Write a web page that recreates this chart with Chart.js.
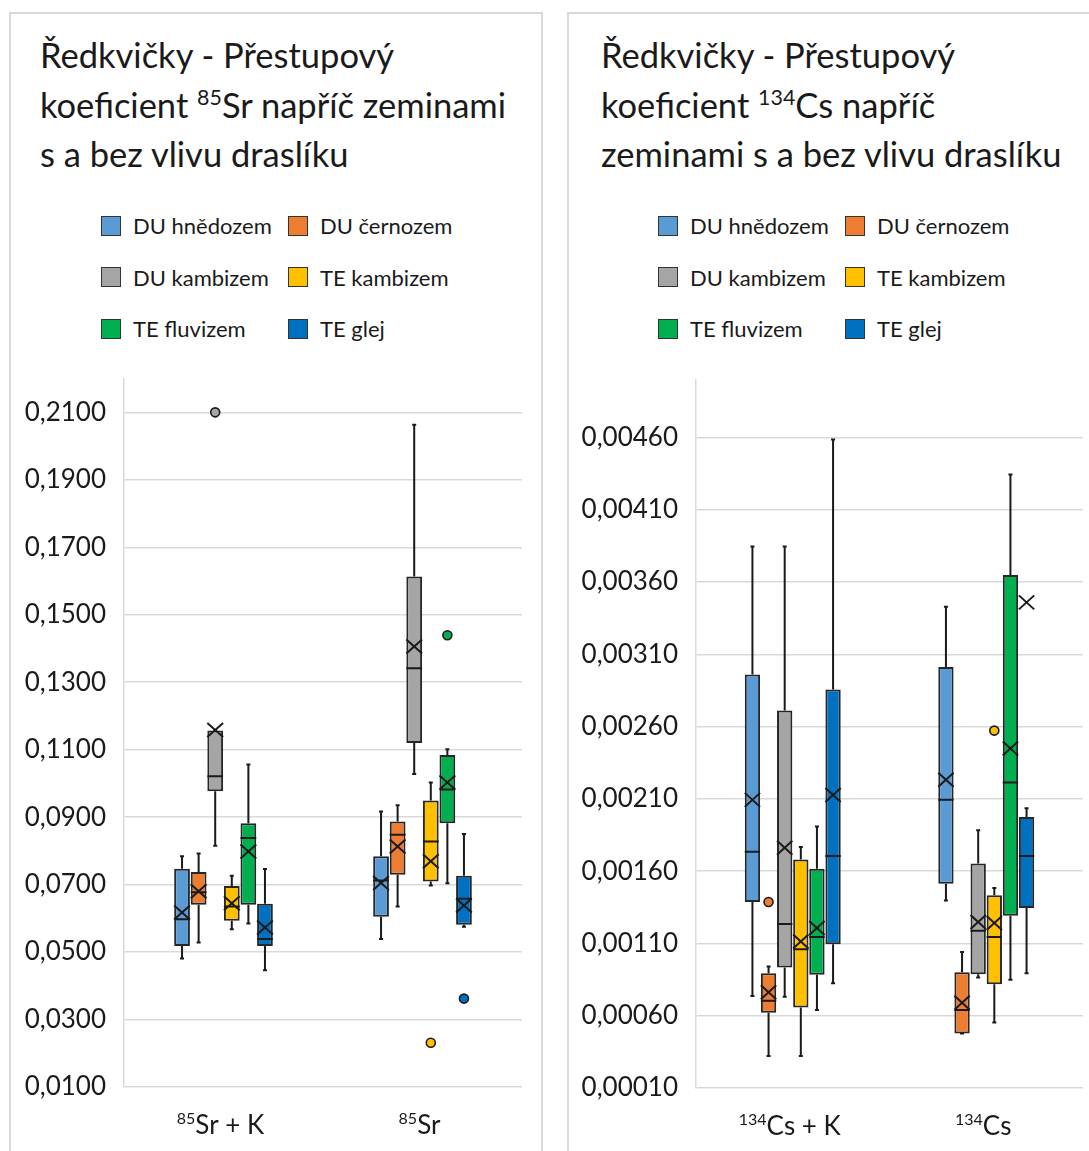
<!DOCTYPE html>
<html>
<head>
<meta charset="utf-8">
<script src="https://cdn.jsdelivr.net/npm/chart.js@4.4.1/dist/chart.umd.min.js"></script>
<style>
  body { margin: 0; background: #fff; font-family: Lato, sans-serif; width: 1089px; height: 1151px; overflow: hidden; position: relative; color: #1a1a1a; }
  .panel { position: absolute; top: 12px; height: 1200px; border: 2px solid #d9d9d9; box-sizing: border-box; }
  .title { position: absolute; top: 30px; font-size: 34.5px; line-height: 49.5px; white-space: nowrap; }
  .title sup { font-size: 0.62em; line-height: 0; vertical-align: 0; position: relative; top: -0.6em; }
  .legend { position: absolute; top: 200px; display: grid; grid-template-columns: 187px 187px; }
  .item { display: flex; align-items: center; height: 51.5px; font-size: 22px; white-space: nowrap; }
  .sw { width: 18px; height: 18px; border: 1.5px solid #333; margin-right: 12px; flex: none; }
  canvas { position: absolute; }
</style>
</head>
<body>
<div class="panel" style="left:9px;width:534px"></div>
<div class="panel" style="left:567px;width:560px"></div>

<div class="title" style="left:40px">Ředkvičky - Přestupový<br>koeficient <sup>85</sup>Sr napříč zeminami<br>s a bez vlivu draslíku</div>
<div class="title" style="left:601px">Ředkvičky - Přestupový<br>koeficient <sup>134</sup>Cs napříč<br>zeminami s a bez vlivu draslíku</div>

<div class="legend" id="leg1" style="left:101px"></div>
<div class="legend" id="leg2" style="left:658px"></div>

<canvas id="srChart" width="528" height="805" style="left:12px;top:345px"></canvas>
<canvas id="csChart" width="519" height="804" style="left:570px;top:346px"></canvas>

<script>
const seriesNames = ['DU hnědozem', 'DU černozem', 'DU kambizem', 'TE kambizem', 'TE fluvizem', 'TE glej'];
const seriesColors = ['#5B9BD5', '#ED7D31', '#A5A5A5', '#FFC000', '#00B050', '#0070C0'];

// 85Sr chart: one row per series, [with K, without K]
const srCategorySup = ['85', '85'];
const srCategoryText = ['Sr + K', 'Sr'];
const srTicks = [0.01, 0.03, 0.05, 0.07, 0.09, 0.11, 0.13, 0.15, 0.17, 0.19, 0.21];
const srLow = [[0.0481, 0.0539], [0.0528, 0.0635], [0.0815, 0.1028], [0.0568, 0.0697], [0.0585, 0.0704], [0.0446, 0.0575]];
const srQ1 = [[0.0518, 0.0605], [0.0640, 0.0729], [0.0977, 0.1120], [0.0593, 0.0709], [0.0640, 0.0882], [0.0518, 0.0581]];
const srMedian = [[0.0597, 0.0712], [0.0677, 0.0848], [0.1021, 0.1341], [0.0635, 0.0828], [0.0838, 0.0982], [0.0539, 0.0658]];
const srQ3 = [[0.0747, 0.0784], [0.0737, 0.0887], [0.1157, 0.1613], [0.0696, 0.0949], [0.0882, 0.1084], [0.0643, 0.0726]];
const srHigh = [[0.0784, 0.0917], [0.0792, 0.0935], [0.1157, 0.2063], [0.0726, 0.1003], [0.1056, 0.1101], [0.0746, 0.0850]];
const srMean = [[0.0617, 0.0705], [0.0680, 0.0813], [0.1158, 0.1406], [0.0645, 0.0769], [0.0798, 0.1003], [0.0573, 0.0638]];
const srOutlierSeries = [2, 3, 4, 5];
const srOutlierCat = [0, 1, 1, 1];
const srOutlierValues = [0.2100, 0.0231, 0.1439, 0.0362];

// 134Cs chart
const csCategorySup = ['134', '134'];
const csCategoryText = ['Cs + K', 'Cs'];
const csTicks = [0.0001, 0.0006, 0.0011, 0.0016, 0.0021, 0.0026, 0.0031, 0.0036, 0.0041, 0.0046];
const csLow = [[0.000737, 0.001397], [0.000322, 0.000477], [0.000732, 0.000864], [0.000322, 0.000553], [0.000640, 0.000848], [0.000824, 0.000894]];
const csQ1 = [[0.001387, 0.001512], [0.000621, 0.000477], [0.000933, 0.000887], [0.000656, 0.000817], [0.000883, 0.001292], [0.001095, 0.001345]];
const csMedian = [[0.001734, 0.002093], [0.000704, 0.000640], [0.001234, 0.001188], [0.001060, 0.001144], [0.001144, 0.002213], [0.001704, 0.001704]];
const csQ3 = [[0.002961, 0.003012], [0.000894, 0.000901], [0.002711, 0.001653], [0.001681, 0.001433], [0.001616, 0.003649], [0.002857, 0.001975]];
const csHigh = [[0.003845, 0.003428], [0.000940, 0.001040], [0.003845, 0.001883], [0.001767, 0.001484], [0.001908, 0.004343], [0.004586, 0.002035]];
const csMean = [[0.002093, 0.002232], [0.000762, 0.000690], [0.001762, 0.001248], [0.001114, 0.001241], [0.001206, 0.002449], [0.002126, 0.003459]];
const csOutlierSeries = [1, 3];
const csOutlierCat = [0, 1];
const csOutlierValues = [0.001387, 0.002572];

// html legends
['leg1', 'leg2'].forEach(id => {
  document.getElementById(id).innerHTML = seriesNames.map((n, i) =>
    `<div class="item"><span class="sw" style="background:${seriesColors[i]}"></span>${n}</div>`).join('');
});

function boxParts(s) {
  return {
    id: 'boxParts',
    afterDatasetsDraw(chart) {
      const ctx = chart.ctx, y = chart.scales.y;
      ctx.save();
      ctx.strokeStyle = '#1a1a1a';
      ctx.lineWidth = 2;
      chart.data.datasets.forEach((ds, i) => {
        chart.getDatasetMeta(i).data.forEach((bar, j) => {
          const x = bar.x, hw = bar.width / 2;
          const lo = y.getPixelForValue(s.low[i][j]);
          const q1 = y.getPixelForValue(s.q1[i][j]);
          const md = y.getPixelForValue(s.median[i][j]);
          const q3 = y.getPixelForValue(s.q3[i][j]);
          const hi = y.getPixelForValue(s.high[i][j]);
          const mn = y.getPixelForValue(s.mean[i][j]);
          ctx.beginPath();
          ctx.moveTo(x, q3); ctx.lineTo(x, hi);
          ctx.moveTo(x - 2, hi); ctx.lineTo(x + 2, hi);
          ctx.moveTo(x, q1); ctx.lineTo(x, lo);
          ctx.moveTo(x - 2, lo); ctx.lineTo(x + 2, lo);
          ctx.moveTo(x - hw, md); ctx.lineTo(x + hw, md);
          ctx.moveTo(x - hw, mn - 7); ctx.lineTo(x + hw, mn + 7);
          ctx.moveTo(x - hw, mn + 7); ctx.lineTo(x + hw, mn - 7);
          ctx.stroke();
        });
      });
      ctx.lineWidth = 1.6;
      s.outSeries.forEach((si, k) => {
        const bar = chart.getDatasetMeta(si).data[s.outCat[k]];
        ctx.beginPath();
        ctx.arc(bar.x, y.getPixelForValue(s.outValues[k]), 4.5, 0, Math.PI * 2);
        ctx.fillStyle = seriesColors[si];
        ctx.fill();
        ctx.stroke();
      });
      ctx.restore();
    }
  };
}

function supLabels(sups, texts) {
  return {
    id: 'supLabels',
    afterDraw(chart) {
      const ctx = chart.ctx, x = chart.scales.x;
      const base = chart.chartArea.bottom + 47;
      ctx.save();
      ctx.fillStyle = '#1a1a1a';
      ctx.textBaseline = 'alphabetic';
      ctx.textAlign = 'left';
      texts.forEach((t, i) => {
        ctx.font = '16px Lato';
        const sw = ctx.measureText(sups[i]).width;
        ctx.font = '26px Lato';
        const tw = ctx.measureText(t).width;
        const left = x.getPixelForValue(i) - (sw + tw) / 2 - 3;
        ctx.font = '16px Lato';
        ctx.fillText(sups[i], left, base - 10);
        ctx.font = '26px Lato';
        ctx.fillText(t, left + sw, base);
      });
      ctx.restore();
    }
  };
}

function makeChart(id, d) {
  new Chart(document.getElementById(id), {
    type: 'bar',
    data: {
      labels: d.texts,
      datasets: seriesNames.map((name, i) => ({
        label: name,
        data: d.q1[i].map((v, j) => [v, d.q3[i][j]]),
        backgroundColor: seriesColors[i],
        borderColor: '#262626',
        borderWidth: 2,
        borderSkipped: false,
        categoryPercentage: 0.5,
        barPercentage: 0.95
      }))
    },
    options: {
      responsive: false,
      animation: false,
      layout: { padding: { top: 0, right: d.right, left: 0, bottom: 0 } },
      plugins: { legend: { display: false }, tooltip: { enabled: false } },
      scales: {
        x: {
          grid: { display: false },
          ticks: { display: false },
          border: { display: false },
          afterFit: s => { s.height = d.bottom; }
        },
        y: {
          min: d.min,
          max: d.max,
          afterFit: s => { s.width = d.axisWidth; },
          afterBuildTicks: s => { s.ticks = d.ticks.map(v => ({ value: v })); },
          ticks: {
            callback: v => v.toFixed(d.digits).replace('.', ','),
            font: { family: 'Lato', size: 26 },
            color: '#1a1a1a',
            padding: 18
          },
          grid: { color: '#d9d9d9', lineWidth: 1.5, drawTicks: false },
          border: { display: true, color: '#d9d9d9', width: 1.5 }
        }
      }
    },
    plugins: [boxParts(d), supLabels(d.sups, d.texts)]
  });
}

makeChart('srChart', {
  texts: srCategoryText, sups: srCategorySup, ticks: srTicks,
  low: srLow, q1: srQ1, median: srMedian, q3: srQ3, high: srHigh, mean: srMean,
  outSeries: srOutlierSeries, outCat: srOutlierCat, outValues: srOutlierValues,
  min: 0.01, max: 0.22, digits: 4,
  right: 18, bottom: 63, axisWidth: 112
});

makeChart('csChart', {
  texts: csCategoryText, sups: csCategorySup, ticks: csTicks,
  low: csLow, q1: csQ1, median: csMedian, q3: csQ3, high: csHigh, mean: csMean,
  outSeries: csOutlierSeries, outCat: csOutlierCat, outValues: csOutlierValues,
  min: 0.0001, max: 0.005, digits: 5,
  right: 6, bottom: 62, axisWidth: 126
});
</script>
</body>
</html>
